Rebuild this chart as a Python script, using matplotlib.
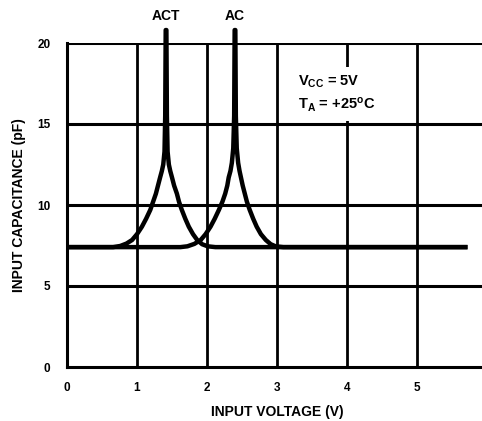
import numpy as np
import matplotlib.pyplot as plt

plt.rcParams['font.family'] = ['Liberation Sans', 'DejaVu Sans']
plt.rcParams['font.weight'] = 'bold'
plt.rcParams['mathtext.fontset'] = 'custom'
plt.rcParams['mathtext.rm'] = 'Liberation Sans:bold'
plt.rcParams['mathtext.bf'] = 'Liberation Sans:bold'

# ACT curve (input voltage V, capacitance pF)
act_v = [0.04, 0.66, 0.76, 0.85, 0.93, 1.00, 1.07, 1.13, 1.19, 1.23, 1.27,
         1.30, 1.33, 1.355, 1.375, 1.393, 1.403, 1.41,
         1.42, 1.427, 1.437, 1.455, 1.475, 1.50, 1.53, 1.57, 1.60, 1.64,
         1.69, 1.74, 1.80, 1.86, 1.93, 2.01, 2.12, 5.69]
act_c = [7.4, 7.4, 7.47, 7.62, 7.84, 8.2, 8.66, 9.15, 9.7, 10.2, 10.7,
         11.2, 11.7, 12.1, 12.5, 13.3, 15.5, 20.8,
         20.8, 15.5, 13.3, 12.5, 12.1, 11.7, 11.2, 10.7, 10.2, 9.7,
         9.15, 8.66, 8.2, 7.84, 7.58, 7.45, 7.4, 7.4]

# AC curve
ac_v = [0.04, 1.62, 1.72, 1.82, 1.91, 1.98, 2.05, 2.11, 2.17, 2.22, 2.26,
        2.29, 2.31, 2.335, 2.355, 2.375, 2.388, 2.395,
        2.405, 2.412, 2.425, 2.445, 2.465, 2.485, 2.51, 2.54, 2.57, 2.61,
        2.66, 2.71, 2.77, 2.84, 2.91, 2.98, 3.09, 5.69]
ac_c = [7.4, 7.4, 7.45, 7.6, 7.84, 8.2, 8.66, 9.15, 9.7, 10.2, 10.7,
        11.2, 11.7, 12.1, 12.6, 13.5, 15.5, 20.8,
        20.8, 15.5, 13.5, 12.6, 12.1, 11.7, 11.2, 10.7, 10.2, 9.7,
        9.15, 8.66, 8.2, 7.84, 7.58, 7.45, 7.4, 7.4]

xticks = [0, 1, 2, 3, 4, 5, 6]
yticks = [0, 5, 10, 15, 20]

fig = plt.figure(figsize=(4.82, 4.21), dpi=100)
ax = fig.add_axes([67/482, 54/421, 420/482, 324/421])

for x in xticks[1:-1]:
    ax.plot([x, x], [0, 20], color='black', lw=2.0, zorder=1)
for y in yticks[1:]:
    ax.plot([0, 6], [y, y], color='black', lw=2.2, zorder=1)

ax.plot(act_v, act_c, color='black', lw=3.2, clip_on=False, zorder=3,
        solid_joinstyle='round')
ax.plot(ac_v, ac_c, color='black', lw=3.2, clip_on=False, zorder=3,
        solid_joinstyle='round')

ax.text(1.41, 21.25, 'ACT', ha='center', va='bottom', fontsize=10)
ax.text(2.40, 21.25, 'AC', ha='center', va='bottom', fontsize=10)

ax.text(3.3, 16.85,
        r'$\mathregular{V_{CC}}$ = 5V' + '\n' +
        r'$\mathregular{T_{A}}$ = +25$\mathregular{^{o}}$C',
        fontsize=10.5, va='center', ha='left', linespacing=1.45,
        bbox=dict(facecolor='white', edgecolor='none', pad=5), zorder=2)

ax.set_xlim(0, 6)
ax.set_ylim(0, 20)
ax.set_xticks(xticks)
ax.set_yticks(yticks)
ax.tick_params(length=0, labelsize=8.5)
ax.tick_params(axis='x', pad=11)
ax.tick_params(axis='y', pad=12)
for side in ['left', 'bottom']:
    ax.spines[side].set_linewidth(2.2)
ax.spines['top'].set_visible(False)
ax.spines['right'].set_visible(False)

ax.set_xlabel('INPUT VOLTAGE (V)', fontsize=10, fontweight='bold', labelpad=8)
ax.set_ylabel('INPUT CAPACITANCE (pF)', fontsize=10, fontweight='bold', labelpad=8)

fig.savefig('out.png', dpi=100)
